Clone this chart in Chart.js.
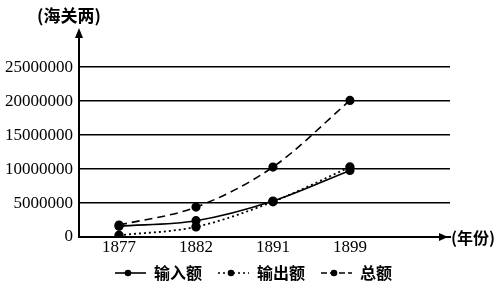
<!DOCTYPE html>
<html>
<head>
<meta charset="utf-8">
<script src="https://cdn.jsdelivr.net/npm/chart.js@4"></script>
<style>
    html, body { margin: 0; padding: 0; background: #fff; }
    #wrap { width: 503px; height: 291px; }
</style>
</head>
<body>
<div id="wrap"><canvas id="chart1"></canvas></div>
<script>
// years on the x axis
const years = ['1877', '1882', '1891', '1899'];
// values in 海关两
const importVals = [1600000, 2400000, 5300000, 9800000];
const exportVals = [250000, 1500000, 5200000, 10300000];
const totalVals = [1750000, 4400000, 10300000, 20100000];
const yTicks = [0, 5000000, 10000000, 15000000, 20000000, 25000000];

const cjk = "'Noto Sans CJK SC', sans-serif";
const serif = "'Liberation Serif', 'DejaVu Serif', serif";

function toPoints(vals) {
    return vals.map((v, i) => ({ x: i, y: v }));
}

// small legend icon: line with a dot in the middle, blank margin on the left
function legendIcon(dash) {
    var c = document.createElement('canvas');
    c.width = 36;
    c.height = 10;
    var ctx = c.getContext('2d');
    ctx.strokeStyle = '#000';
    ctx.lineWidth = 1.6;
    ctx.setLineDash(dash);
    ctx.beginPath();
    ctx.moveTo(5, 5);
    ctx.lineTo(36, 5);
    ctx.stroke();
    ctx.fillStyle = '#000';
    ctx.beginPath();
    ctx.arc(18, 5, 3.3, 0, Math.PI * 2);
    ctx.fill();
    return c;
}

const icons = [legendIcon([]), legendIcon([2, 3]), legendIcon([6, 3])];

const extras = {
    id: 'extras',
    afterLayout(chart) {
        // centre the legend on the whole canvas, not only the plot side
        const l = chart.legend;
        const shift = 26;
        l.left += shift;
        l.right += shift;
    },
    afterDraw(chart) {
        const ctx = chart.ctx;
        const a = chart.chartArea;
        ctx.save();
        ctx.fillStyle = '#000';
        // arrow on y axis
        ctx.beginPath();
        ctx.moveTo(a.left, a.top - 4);
        ctx.lineTo(a.left - 4, a.top + 6);
        ctx.lineTo(a.left + 4, a.top + 6);
        ctx.closePath();
        ctx.fill();
        // arrow on x axis
        ctx.beginPath();
        ctx.moveTo(a.right - 2, a.bottom);
        ctx.lineTo(a.right - 11, a.bottom - 4);
        ctx.lineTo(a.right - 11, a.bottom + 4);
        ctx.closePath();
        ctx.fill();
        ctx.font = 'bold 17px ' + cjk;
        ctx.textBaseline = 'middle';
        ctx.textAlign = 'center';
        ctx.fillText('(海关两)', 69, 16);
        ctx.textAlign = 'left';
        ctx.font = 'bold 16px ' + cjk;
        ctx.fillText('(年份)', a.right + 1, a.bottom + 1);
        ctx.restore();
    }
};

const data = {
    datasets: [{
        label: '输入额',
        data: toPoints(importVals),
        borderColor: '#000',
        backgroundColor: '#000',
        borderWidth: 1.6,
        pointRadius: 3.8,
        tension: 0.4,
        cubicInterpolationMode: 'monotone'
    },
    {
        label: '输出额',
        data: toPoints(exportVals),
        borderColor: '#000',
        backgroundColor: '#000',
        borderWidth: 1.8,
        borderDash: [2, 3],
        pointRadius: 3.8,
        tension: 0.4,
        cubicInterpolationMode: 'monotone'
    },
    {
        label: '总额',
        data: toPoints(totalVals),
        borderColor: '#000',
        backgroundColor: '#000',
        borderWidth: 1.6,
        borderDash: [8, 5],
        pointRadius: 3.8,
        tension: 0.4,
        cubicInterpolationMode: 'monotone'
    }]
};

const config = {
    type: 'line',
    data: data,
    plugins: [extras],
    options: {
        responsive: true,
        maintainAspectRatio: false,
        animation: false,
        layout: { padding: { top: 32, right: 53, bottom: 0, left: 0 } },
        scales: {
            x: {
                type: 'linear',
                min: -0.52,
                max: 4.3,
                afterBuildTicks: s => { s.ticks = years.map((y, i) => ({ value: i })); },
                afterFit: s => { s.height = 17; },
                grid: { display: false, drawTicks: false },
                border: { display: true, color: '#000', width: 2 },
                ticks: {
                    callback: v => years[v],
                    color: '#000',
                    font: { family: serif, size: 17 },
                    padding: 0,
                    maxRotation: 0
                }
            },
            y: {
                min: 0,
                max: 30180000,
                afterBuildTicks: s => { s.ticks = yTicks.map(v => ({ value: v })); },
                afterFit: s => { s.width = 79; },
                grid: { color: '#000', lineWidth: 1.6, drawTicks: false },
                border: { display: true, color: '#000', width: 2 },
                ticks: {
                    callback: v => String(v),
                    color: '#000',
                    font: { family: serif, size: 17 },
                    padding: 6
                }
            }
        },
        plugins: {
            tooltip: { enabled: false },
            legend: {
                position: 'bottom',
                labels: {
                    usePointStyle: true,
                    pointStyleWidth: 36,
                    color: '#000',
                    padding: 11,
                    font: { family: cjk, size: 16, weight: 'bold' },
                    generateLabels: chart => {
                        const items = Chart.defaults.plugins.legend.labels.generateLabels(chart);
                        items.forEach((it, i) => { it.pointStyle = icons[i]; });
                        return items;
                    }
                }
            }
        }
    }
};

const myChart = new Chart(document.getElementById('chart1'), config);
</script>
</body>
</html>
